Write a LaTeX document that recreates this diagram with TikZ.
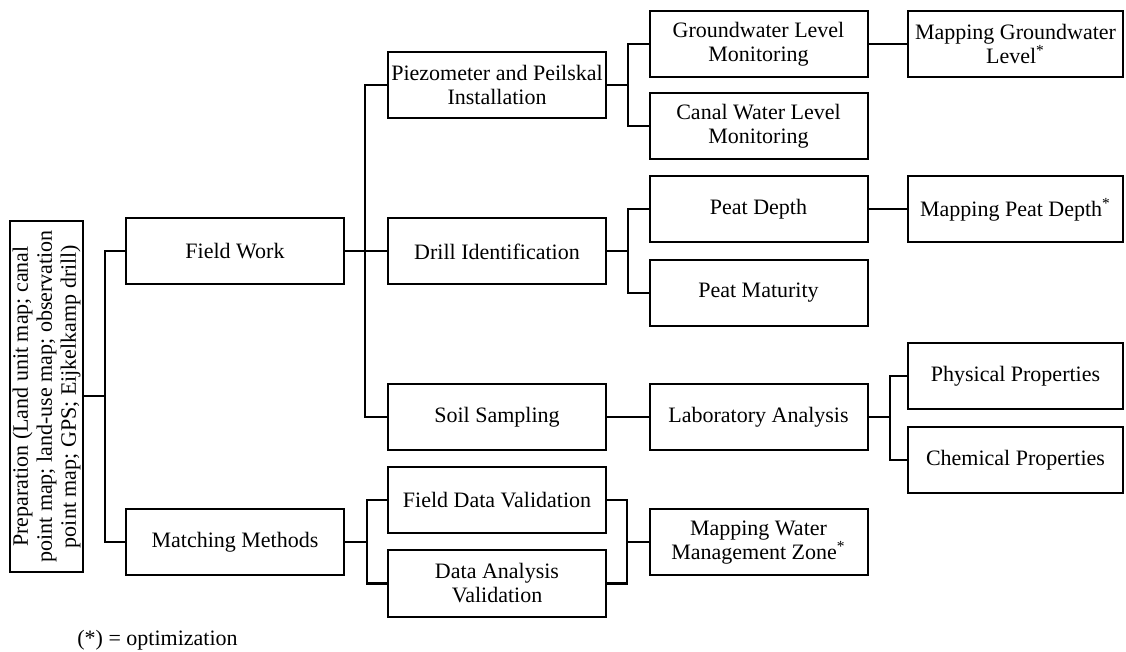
\documentclass[tikz,border=0pt]{standalone}
\usepackage{fontspec}
\setmainfont{Liberation Serif}
\begin{document}
\begin{tikzpicture}[x=0.5pt,y=-0.5pt,
		box/.style={draw, line width=1pt, align=center, inner sep=1pt,
			minimum width=109pt, minimum height=33pt, font=\fontsize{11}{12}\selectfont},
		link/.style={line width=1pt}]
			\useasboundingbox (0,0) rectangle (1126,652);
			\node [box, rotate=90, minimum width=175.5pt, minimum height=36.5pt] (prep) at (46.5,396.5) {Preparation (Land unit map; canal\\point map; land-use map; observation\\point map; GPS; Eijkelkamp drill)};
			\node [box] (fw) at (235,251.5) {Field Work};
			\node [box] (mm) at (235,542.5) {Matching Methods};
			\node [box] (pz) at (497,85) {Piezometer and Peilskal\\Installation};
			\node [box] (dr) at (497,251.5) {Drill Identification};
			\node [box] (ss) at (497,417) {Soil Sampling};
			\node [box] (fv) at (497,500) {Field Data Validation};
			\node [box] (dv) at (497,583.5) {Data Analysis\\Validation};
			\node [box] (gw) at (758.5,44) {Groundwater Level\\Monitoring};
			\node [box] (cw) at (758.5,126) {Canal Water Level\\Monitoring};
			\node [box] (pd) at (758.5,209.5) {Peat Depth};
			\node [box] (pm) at (758.5,293) {Peat Maturity};
			\node [box] (la) at (758.5,417) {Laboratory Analysis};
			\node [box] (mw) at (758.5,542.5) {Mapping Water\\Management Zone\textsuperscript{*}};
			\node [box, minimum width=107.5pt] (mg) at (1015.5,44) {Mapping Groundwater\\Level\textsuperscript{*}};
			\node [box, minimum width=107.5pt] (mp) at (1015.5,209.5) {Mapping Peat Depth\textsuperscript{*}};
			\node [box, minimum width=107.5pt] (pp) at (1015.5,376) {Physical Properties};
			\node [box, minimum width=107.5pt] (cp) at (1015.5,460) {Chemical Properties};
			\node [anchor=west, inner sep=0pt, font=\fontsize{11}{12}\selectfont] (note) at (77,640) {(*) = optimization};
			\draw [link] (prep.south) -- ++(21,0) coordinate (j0) |- (fw.west) (j0) |- (mm.west);
			\draw [link] (fw.east) -- (dr.west);
			\draw [link] (pz.west) -- ++(-22,0) |- (ss.west);
			\draw [link] (mm.east) -- ++(22,0) coordinate (j1) |- (fv.west) (j1) |- (dv.west);
			\draw [link] (pz.east) -- ++(21,0) coordinate (j2) |- (gw.west) (j2) |- (cw.west);
			\draw [link] (dr.east) -- ++(21,0) coordinate (j3) |- (pd.west) (j3) |- (pm.west);
			\draw [link] (ss.east) -- (la.west);
			\draw [link] (mw.west) -- ++(-22,0) coordinate (j4) |- (fv.east) (j4) |- (dv.east);
			\draw [link] (la.east) -- ++(21,0) coordinate (j5) |- (pp.west) (j5) |- (cp.west);
			\draw [link] (gw.east) -- (mg.west);
			\draw [link] (pd.east) -- (mp.west);
		\end{tikzpicture}
\end{document}
